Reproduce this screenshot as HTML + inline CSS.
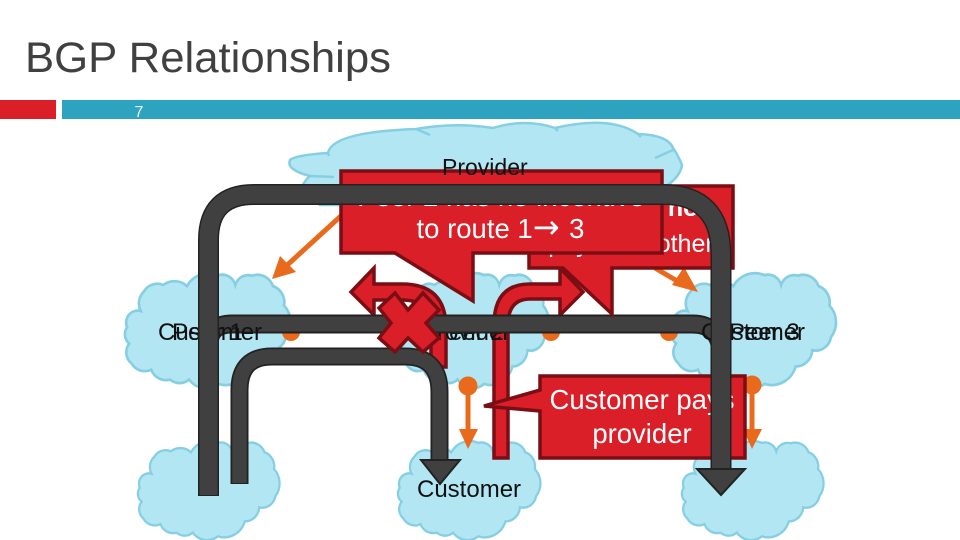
<!DOCTYPE html>
<html><head><meta charset="utf-8"><style>
html,body{margin:0;padding:0;background:#fff}
svg{display:block}
text{font-family:"Liberation Sans",sans-serif}
.c{fill:#b2e6f2;stroke:#86cfe3;stroke-width:2.5;vector-effect:non-scaling-stroke}
.r{fill:#da1f28;stroke:#7b0e14;stroke-width:3.500;stroke-linejoin:miter}
.l{font-size:24px;fill:#111}
.w{font-size:27.5px;fill:#fff;text-anchor:middle}
.o{fill:#e96a1c}
</style></head><body>
<svg width="960" height="540" viewBox="0 0 960 540" xmlns="http://www.w3.org/2000/svg">
<defs>
<path id="cl" transform="translate(-5.250,-4.350) scale(1.050,1.087)" d="M20 39A15 15 0 0 1 23 21A15 15 0 0 1 41.500 15A18 18 0 0 1 64 16A24 24 0 0 1 94 6A13 13 0 0 1 110 15A13 13 0 0 1 126 6.500A16 16 0 0 1 146 16A16 16 0 0 1 156.500 34A22 22 0 0 1 158 63A15 15 0 0 1 140 75A16 16 0 0 1 124 90A24 24 0 0 1 94 106A20 20 0 0 1 66 102A14 14 0 0 1 48 102A15 15 0 0 1 30 93A15 15 0 0 1 11 87A13 13 0 0 1 9 69A11 11 0 0 1 7 54A11 11 0 0 1 20 39Z"/>
</defs>
<rect width="960" height="540" fill="#fff"/>
<text x="25" y="72" font-size="43" fill="#404040" textLength="366" lengthAdjust="spacingAndGlyphs">BGP Relationships</text>
<rect x="0" y="100" width="56" height="19" fill="#da1f28"/>
<rect x="62" y="100" width="898" height="19" fill="#2ea3c0"/>
<text x="139" y="117" font-size="16" fill="#e8fbff" text-anchor="middle">7</text>

<path class="c" d="M328 153Q332 132 416 129Q455 122 493 128Q525 118 555 128Q610 115 638 134Q668 135 673 148Q678 155 682 165Q680 178 663 188L650 205L320 205L300 190Q305 180 310 176Q286 170 290 160Q296 155 328 153Z"/>
<path d="M416 129L430 135M555 128L558 131M638 134L641 137M655 158L673 150M310 176L334 177M328 153L329 156" fill="none" stroke="#86cfe3" stroke-width="2.500"/>
<use href="#cl" class="c" transform="translate(125,273)"/>
<use href="#cl" class="c" transform="translate(400,273) scale(0.9,1)"/>
<use href="#cl" class="c" transform="translate(672,273) scale(0.99,1)"/>
<use href="#cl" class="c" transform="translate(138,441) scale(0.855,0.86)"/>
<use href="#cl" class="c" transform="translate(398,441) scale(0.86,0.86)"/>
<use href="#cl" class="c" transform="translate(682,441) scale(0.855,0.86)"/>

<g stroke="#e96a1c" stroke-width="5" fill="none">
<path d="M342 215L284 268"/><path d="M655 268L684 285"/>
<path d="M468 386V430"/><path d="M752 385V430"/>
</g>
<g class="o">
<path d="M272 279L280 256L296 272Z"/>
<path d="M698 292L672 285L684 267Z"/>
<path d="M459 429H478L468 449Z"/><path d="M743 429H762L752 449Z"/>
<circle cx="291" cy="332" r="9"/><circle cx="391" cy="332" r="9"/>
<circle cx="551" cy="332" r="9"/><circle cx="669" cy="332" r="9"/>
<circle cx="468" cy="386" r="9.500"/><circle cx="752" cy="385" r="9.500"/>
</g>

<path class="r" d="M446 367V328Q446 284 402 284H374V268L351 292L374 315V300H402Q431 300 431 328V367Z"/>
<path class="r" d="M494 458V325Q494 284 530 284H560V268L583 292L560 315V299H530Q508 299 508 325V458Z"/>

<text class="l" x="421" y="340">Provider</text>
<text class="l" x="433" y="340">Peer 2</text>

<path d="M209 360V345Q209 324 232 324H692Q721 324 721 355V380" fill="none" stroke="#222" stroke-width="19"/>
<path d="M209 360V345Q209 324 232 324H692Q721 324 721 355V380" fill="none" stroke="#404040" stroke-width="15"/>
<text class="l" x="158" y="340">Customer</text>
<text class="l" x="172" y="340">Peer 1</text>
<text class="l" x="701" y="340">Customer</text>
<text class="l" x="729" y="340">Peer 3</text>

<path d="M239.500 484V390Q239.500 356.500 272 356.500H405Q439.500 356.500 439.500 392V462" fill="none" stroke="#222" stroke-width="18"/>
<path d="M239.500 483V390Q239.500 356.500 272 356.500H405Q439.500 356.500 439.500 392V462" fill="none" stroke="#404040" stroke-width="14.500"/>
<path d="M421 460H460L440 484Z" fill="#404040" stroke="#222" stroke-width="2"/>
<text class="l" x="417" y="497">Customer</text>

<path class="r" d="M529 186H733V268H612V314L563 268H529Z"/>
<text x="631" y="216" font-size="25" font-weight="bold" fill="#fff" text-anchor="middle">Peers do not</text>
<text x="631" y="252" font-size="25" fill="#fff" text-anchor="middle">pay each other</text>

<path class="r" d="M341 171H662V253H473V301L395 253H341Z"/>
<text class="w" x="501" y="206">Peer 2 has no incentive</text>
<text class="w" x="500.500" y="238">to route 1<tspan style="font-family:'DejaVu Sans',sans-serif;font-size:32px">→</tspan><tspan dx="2"> 3</tspan></text>
<text class="l" x="442" y="175" style="font-size:23px">Provider</text>

<path class="r" d="M540 376H745V458H540V411L484 406L540 390Z"/>
<text class="w" x="642" y="409">Customer pays</text>
<text class="w" x="642" y="443">provider</text>

<path d="M208.500 496V240Q208.500 194.500 254 194.500H663Q721 194.500 721 255V470" fill="none" stroke="#222" stroke-width="21"/>
<path d="M208.500 495V240Q208.500 194.500 254 194.500H663Q721 194.500 721 255V470" fill="none" stroke="#404040" stroke-width="18"/>
<path d="M697 469H745L721 495Z" fill="#404040" stroke="#222" stroke-width="2"/>

<path class="r" d="M395 293L408 310L423 293L439 310L426 323L439 338L423 352L408 338L395 352L379 338L391 323L379 308Z" stroke-width="2.500"/>
</svg>
</body></html>
